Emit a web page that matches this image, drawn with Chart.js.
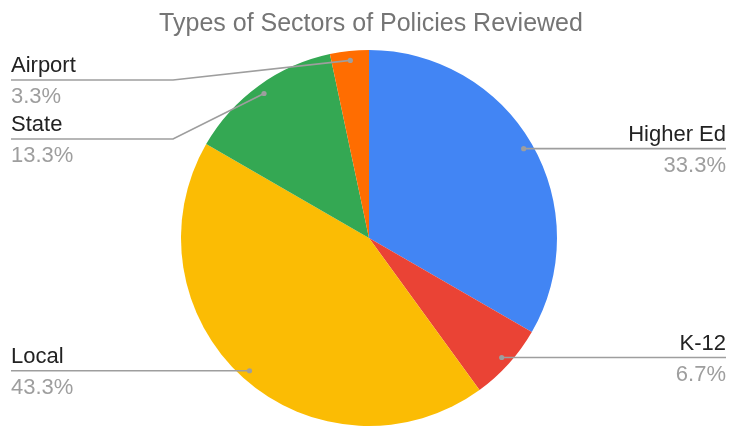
<!DOCTYPE html>
<html>
<head>
<meta charset="utf-8">
<title>Types of Sectors of Policies Reviewed</title>
<script src="https://cdn.jsdelivr.net/npm/chart.js@4.4.1/dist/chart.umd.min.js"></script>
<style>
  html, body { margin: 0; padding: 0; background: #ffffff; }
  #wrap { width: 730px; height: 427px; position: relative; }
</style>
</head>
<body>
<div id="wrap"><canvas id="pie"></canvas></div>
<script>
// ============================================================
// DATA
// ============================================================
const chartTitle = 'Types of Sectors of Policies Reviewed';
const sectors = ['Higher Ed', 'K-12', 'Local', 'State', 'Airport'];
const policyCounts = [10, 2, 13, 4, 1];
const sliceColors = ['#4285F4', '#EA4335', '#FBBC04', '#34A853', '#FF6D01'];

// ============================================================
// LEADER LABELS (google sheets style)
// ============================================================
const leaderLabels = {
    id: 'leaderLabels',
    afterDraw(chart) {
        const ctx = chart.ctx;
        const meta = chart.getDatasetMeta(0);
        const total = policyCounts.reduce((a, b) => a + b, 0);
        const W = chart.width;

        // title
        ctx.save();
        ctx.font = '25px "Liberation Sans", Arial, sans-serif';
        ctx.fillStyle = '#757575';
        ctx.textAlign = 'center';
        ctx.textBaseline = 'alphabetic';
        ctx.fillText(chartTitle, 371, 31);

        // work out dot positions on each slice
        const items = meta.data.map((arc, i) => {
            const p = arc.getProps(['x', 'y', 'startAngle', 'endAngle', 'outerRadius'], true);
            const mid = (p.startAngle + p.endAngle) / 2;
            const r = p.outerRadius * 0.95;
            return {
                label: sectors[i],
                pct: (policyCounts[i] / total * 100).toFixed(1) + '%',
                dx: p.x + Math.cos(mid) * r,
                dy: p.y + Math.sin(mid) * r,
                right: Math.cos(mid) > 0
            };
        });

        // spread labels on each side so they do not overlap
        const minY = 80, gap = 59;
        [true, false].forEach(side => {
            const group = items.filter(it => it.right === side).sort((a, b) => a.dy - b.dy);
            let last = minY - gap;
            group.forEach(it => {
                it.ly = Math.max(it.dy, last + gap);
                last = it.ly;
            });
        });

        items.forEach(it => {
            const endX = it.right ? W - 4 : 11;
            const elbowX = it.right ? W - 200 : 173;

            ctx.strokeStyle = '#9e9e9e';
            ctx.lineWidth = 1.7;
            ctx.beginPath();
            ctx.moveTo(it.dx, it.dy);
            if (Math.abs(it.ly - it.dy) > 1) {
                ctx.lineTo(elbowX, it.ly);
            }
            ctx.lineTo(endX, it.ly);
            ctx.stroke();

            ctx.fillStyle = '#9e9e9e';
            ctx.beginPath();
            ctx.arc(it.dx, it.dy, 2.6, 0, Math.PI * 2);
            ctx.fill();

            ctx.textAlign = it.right ? 'right' : 'left';
            ctx.font = '22px "Liberation Sans", Arial, sans-serif';
            ctx.fillStyle = '#222222';
            ctx.fillText(it.label, it.right ? W - 4 : 11, it.ly - 8);
            ctx.fillStyle = '#9e9e9e';
            ctx.fillText(it.pct, it.right ? W - 4 : 11, it.ly + 23);
        });
        ctx.restore();
    }
};

// ============================================================
// CHART
// ============================================================
new Chart(document.getElementById('pie'), {
    type: 'pie',
    data: {
        labels: sectors,
        datasets: [{
            data: policyCounts,
            backgroundColor: sliceColors,
            borderWidth: 0
        }]
    },
    options: {
        responsive: true,
        maintainAspectRatio: false,
        animation: false,
        layout: {
            padding: { top: 50, bottom: 1, left: 8, right: 0 }
        },
        plugins: {
            legend: { display: false },
            tooltip: { enabled: false },
            title: { display: false }
        }
    },
    plugins: [leaderLabels]
});
</script>
</body>
</html>
